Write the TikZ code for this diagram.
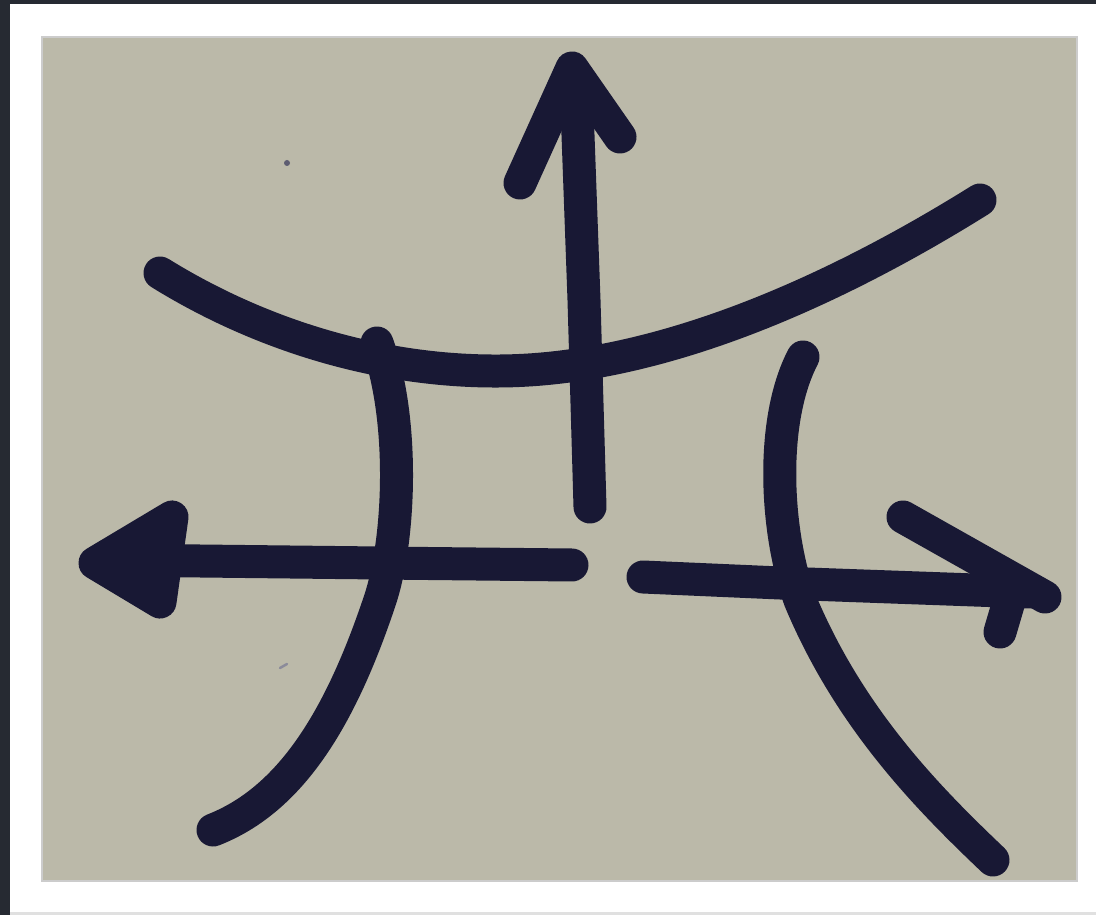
\documentclass[tikz,border=0pt]{standalone}
\usepackage{tikz}

\definecolor{ink}{RGB}{24,24,52}
\definecolor{paper}{RGB}{187,185,169}
\definecolor{frame}{RGB}{38,42,50}

\tikzset{
	pen/.style={ink, line width=0.66cm, line cap=round, line join=round},
}

\begin{document}
\begin{tikzpicture}[x=0.02cm, y=-0.02cm]
		\useasboundingbox (0, 0) rectangle (1096, 915);
		% frame of the screenshot
		\fill [white] (0, 0) rectangle (1096, 915);
		\fill [frame] (0, 0) rectangle (1096, 4);
		\fill [frame] (0, 0) rectangle (10, 915);
		\fill [black!12] (10, 912) rectangle (1096, 915);
		% the photo of the paper
		\fill [black!20] (41, 36) rectangle (1078, 882);
		\fill [paper] (43, 38) rectangle (1076, 880);
		\fill [ink!70] (287, 163) circle (3);
		\draw [ink!50, line width=0.05cm, line cap=round] (280, 668) -- (287, 664);
		% long curve across the top
		\draw [pen] (160, 273) .. controls (260, 335) and (380, 372) .. (500, 371)
			.. controls (650, 370) and (820, 300) .. (980, 200);
		% vertical arrow
		\draw [pen] (590, 507) -- (584, 300) -- (576, 80);
		\draw [pen] (520, 183) -- (572, 68) -- (620, 137);
		% left curve and left arrow
		\draw [pen] (377, 343) .. controls (405, 420) and (400, 540) .. (380, 600)
			.. controls (340, 720) and (290, 800) .. (213, 830);
		\draw [pen] (572, 565) -- (380, 563) -- (110, 560);
		\draw [pen, fill=ink] (172, 517) -- (95, 563) -- (160, 602) -- cycle;
		% right curve and right arrow
		\draw [pen] (803, 357) .. controls (770, 420) and (775, 530) .. (800, 600)
			.. controls (850, 720) and (930, 800) .. (993, 860);
		\draw [pen] (643, 577) -- (780, 583) -- (1030, 592);
		\draw [pen] (903, 517) -- (1045, 597);
		\draw [pen] (1000, 632) -- (1010, 598);
	\end{tikzpicture}
\end{document}
